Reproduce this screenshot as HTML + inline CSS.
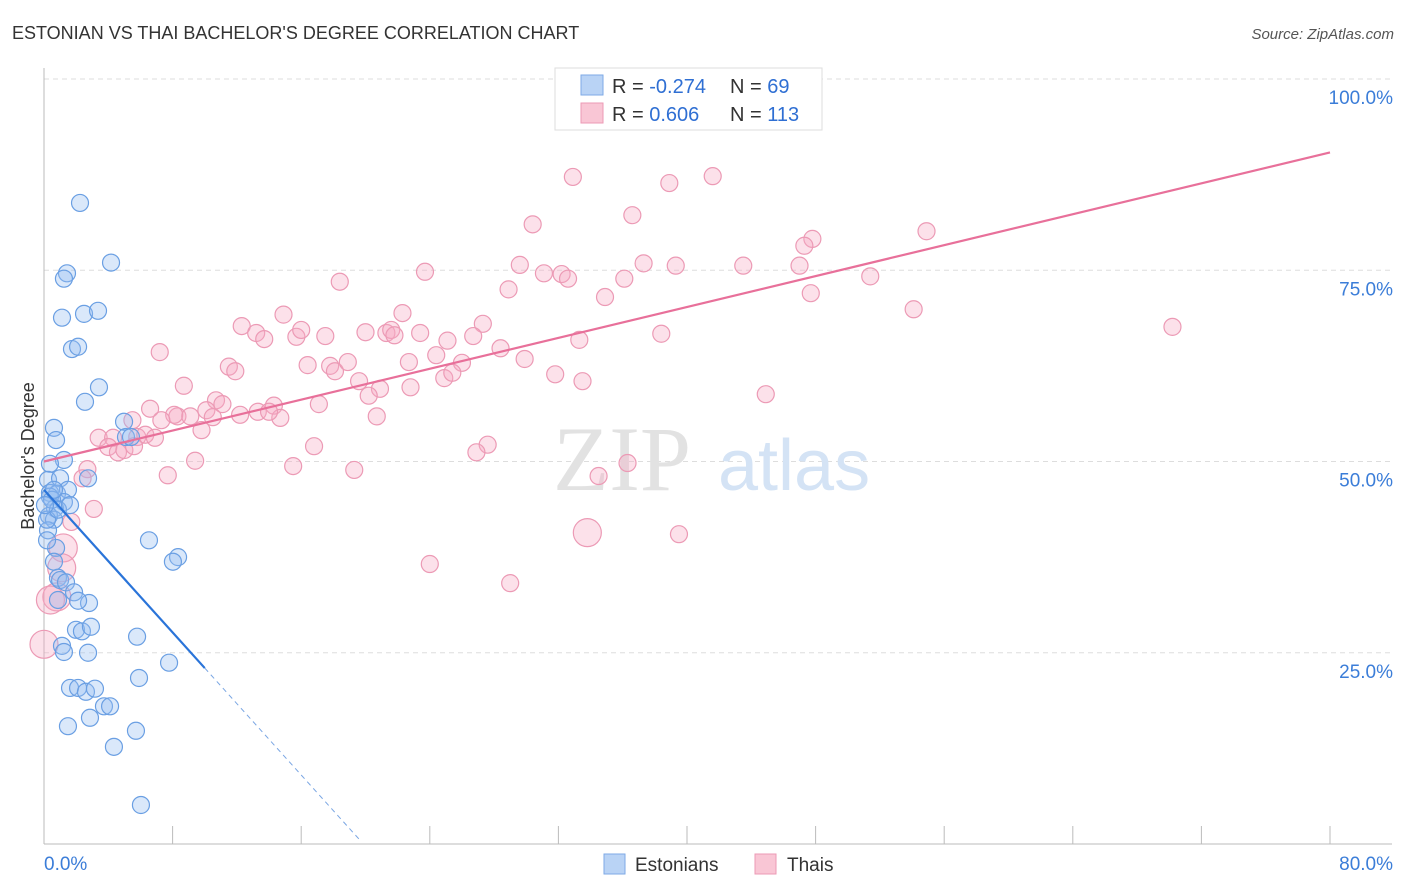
<!DOCTYPE html>
<html><head><meta charset="utf-8"><style>
body{margin:0;background:#fff;font-family:"Liberation Sans",sans-serif;}
svg{display:block}
</style></head><body>
<svg id="chart" width="1406" height="892" viewBox="0 0 1406 892">
<text x="12" y="39" font-size="18" fill="#333">ESTONIAN VS THAI BACHELOR'S DEGREE CORRELATION CHART</text>
<text x="1394" y="39" font-size="15" fill="#555" font-style="italic" text-anchor="end">Source: ZipAtlas.com</text>
<g id="grid"></g>
<g><text x="553" y="490" font-size="92" fill="#e2e2e2" font-family="Liberation Serif,serif">ZIP</text><text x="718" y="490" font-size="72" fill="#d4e3f5">atlas</text></g>
<line x1="44" y1="68" x2="44" y2="844" stroke="#bbb"/>
<line x1="44" y1="844" x2="1392" y2="844" stroke="#bbb"/>
<text x="34" y="456" font-size="18" fill="#333" transform="rotate(-90 34 456)" text-anchor="middle">Bachelor's Degree</text>
<g id="pts"></g>
<g id="lines"></g>
<g>
<rect x="555" y="68" width="267" height="62" fill="#fff" stroke="#ddd"/>
<rect x="581" y="75" width="22" height="20" fill="#b9d3f5" stroke="#7eaae6"/>
<rect x="581" y="103" width="22" height="20" fill="#f9c6d5" stroke="#ec9ab5"/>
<text x="612" y="93" font-size="20" fill="#333">R = <tspan fill="#2f6fd3">-0.274</tspan></text>
<text x="730" y="93" font-size="20" fill="#333">N = <tspan fill="#2f6fd3"> 69</tspan></text>
<text x="612" y="121" font-size="20" fill="#333">R = <tspan fill="#2f6fd3"> 0.606</tspan></text>
<text x="730" y="121" font-size="20" fill="#333">N = <tspan fill="#2f6fd3">113</tspan></text>
</g>
<g>
<rect x="604" y="854" width="21" height="20" fill="#b9d3f5" stroke="#7eaae6"/>
<text x="635" y="871" font-size="19" fill="#333">Estonians</text>
<rect x="755" y="854" width="21" height="20" fill="#f9c6d5" stroke="#ec9ab5"/>
<text x="787" y="871" font-size="19" fill="#333">Thais</text>
</g>
</svg>
<script>
const blueX=[2.24,4.17,1.43,1.24,1.12,2.49,3.36,1.74,2.12,3.42,2.55,4.98,0.62,0.75,1.24,0.37,0.25,1.0,2.74,0.37,0.81,1.49,1.24,0.37,0.68,0.31,0.62,0.25,6.53,0.75,8.34,8.02,0.62,0.87,1.0,1.37,1.87,2.80,2.12,0.87,5.79,1.99,2.36,2.92,1.12,2.74,1.24,5.91,7.78,1.62,2.12,2.61,3.17,3.73,4.11,2.86,1.49,5.72,4.35,6.03,5.10,5.41,0.19,0.5,0.87,1.62,0.06,0.62,0.19];
const blueY=[83.8,76.0,74.6,73.9,68.8,69.3,69.7,64.7,65.0,59.7,57.8,55.2,54.4,52.8,50.2,49.7,47.6,47.8,47.8,45.9,45.8,46.3,44.7,45.4,43.9,42.9,42.4,41.0,39.7,38.7,37.5,36.9,36.9,34.8,34.5,34.2,32.9,31.5,31.8,31.9,27.1,28.0,27.8,28.4,25.9,25.0,25.1,21.7,23.7,20.4,20.4,19.9,20.3,18.0,18.0,16.5,15.4,14.8,12.7,5.1,53.2,53.2,42.4,45.0,43.7,44.3,44.3,46.3,39.7];
const pinkX=[32.9,41.6,38.9,36.6,30.4,54.9,47.8,47.3,18.4,23.7,29.6,31.1,32.2,32.6,36.1,37.3,39.3,43.5,47.0,51.4,28.9,34.9,47.7,54.1,70.2,14.9,22.3,12.3,13.2,13.7,15.7,16.0,17.5,20.0,21.3,21.6,21.8,23.4,27.3,26.7,25.1,28.4,33.3,38.4,7.2,24.4,22.7,29.9,26.0,11.5,11.9,16.4,17.8,18.1,18.9,19.6,20.9,22.8,24.9,25.4,31.8,33.5,44.9,8.7,20.2,17.1,10.7,11.1,10.1,6.6,8.3,8.1,9.1,10.5,12.2,13.3,14.3,14.7,14.0,20.7,7.3,5.5,9.8,5.8,3.4,4.3,6.3,6.9,4.0,4.6,5.0,5.6,16.8,27.6,26.9,9.4,15.5,19.3,2.7,7.7,34.5,36.3,2.4,3.1,1.7,33.8,39.5,24.0,29.0,1.2,1.1,0.8,0.0,0.4];
const pinkY=[87.2,87.3,86.4,82.2,81.0,80.1,79.1,78.2,73.5,74.8,75.7,74.6,74.5,73.9,73.9,75.9,75.6,75.6,75.6,74.2,72.5,71.5,72.0,69.9,67.6,69.2,69.4,67.7,66.8,66.0,66.3,67.2,66.4,66.9,66.8,67.2,66.5,66.8,68.0,66.4,65.8,64.8,65.9,66.7,64.3,63.9,63.0,63.4,62.9,62.4,61.8,62.6,62.5,61.8,63.0,60.5,59.5,59.7,60.9,61.6,61.4,60.5,58.8,59.9,58.6,57.5,58.0,57.5,56.7,56.9,55.9,56.1,55.9,55.8,56.1,56.5,57.3,55.7,56.5,55.9,55.4,55.4,54.1,53.2,53.1,53.1,53.5,53.1,51.9,51.2,51.5,52.0,52.0,52.2,51.2,50.1,49.4,48.9,49.0,48.2,48.1,49.8,47.8,43.8,42.1,40.7,40.5,36.6,34.1,38.7,36.1,32.3,26.1,31.9];
const pinkBig=[0,0,0,0,0,0,0,0,0,0,0,0,0,0,0,0,0,0,0,0,0,0,0,0,0,0,0,0,0,0,0,0,0,0,0,0,0,0,0,0,0,0,0,0,0,0,0,0,0,0,0,0,0,0,0,0,0,0,0,0,0,0,0,0,0,0,0,0,0,0,0,0,0,0,0,0,0,0,0,0,0,0,0,0,0,0,0,0,0,0,0,0,0,0,0,0,0,0,0,0,0,0,0,0,0,1,0,0,0,1,1,1,1,1];
const xTicks=[0,8,16,24,32,40,48,56,64,72,80];
const yTicks=[25,50,75,100];
const yTickLabels=["25.0%","50.0%","75.0%","100.0%"];
const blueLine=[46.3,-2.33];
const pinkLine=[50.0,0.505];
const NS="http://www.w3.org/2000/svg";
const sx=v=>44+v*16.075, sy=v=>844-v*7.65;
function mk(tag,attrs,parent){const e=document.createElementNS(NS,tag);for(const k in attrs)e.setAttribute(k,attrs[k]);parent.appendChild(e);return e;}
const grid=document.getElementById('grid');
yTicks.forEach((t,i)=>{
 const l=mk('line',{x1:44,x2:1392,y1:sy(t),y2:sy(t),stroke:'#ddd','stroke-dasharray':'5,4'},grid);
 
 
 const tx=mk('text',{x:1393,y:sy(t)+25,'font-size':19,fill:'#3b7dd8','text-anchor':'end'},grid);
 tx.textContent=yTickLabels[i];
 
 
});
xTicks.forEach(t=>{
 const l=mk('line',{x1:sx(t),x2:sx(t),y1:826,y2:844,stroke:'#bbb'},grid);
 
 
});
const xl=mk('text',{x:44,y:870,'font-size':19,fill:'#3b7dd8'},grid);xl.textContent=xTicks[0].toFixed(1)+'%';


const xr=mk('text',{x:1393,y:870,'font-size':19,fill:'#3b7dd8','text-anchor':'end'},grid);xr.textContent=xTicks[xTicks.length-1].toFixed(1)+'%';


const pts=document.getElementById('pts');
pinkX.forEach((x,i)=>{
 const c=mk('circle',{cx:sx(x),cy:sy(pinkY[i]),r:pinkBig[i]?14:8.5,fill:'rgba(245,170,195,0.35)',stroke:'#ec9ab5','stroke-width':1.2},pts);
 
 
});
blueX.forEach((x,i)=>{
 const c=mk('circle',{cx:sx(x),cy:sy(blueY[i]),r:8.5,fill:'rgba(150,190,240,0.35)',stroke:'#6a9fe3','stroke-width':1.2},pts);
 
 
});
const lines=document.getElementById('lines');
const pl=mk('line',{x1:sx(0),y1:sy(pinkLine[0]),x2:sx(80),y2:sy(pinkLine[0]+80*pinkLine[1]),stroke:'#e8709a','stroke-width':2.2},lines);


const bl=mk('line',{x1:sx(0),y1:sy(blueLine[0]),x2:sx(10),y2:sy(blueLine[0]+10*blueLine[1]),stroke:'#2a74d9','stroke-width':2.2},lines);


const xe=-blueLine[0]/blueLine[1]-0.2;
const bd=mk('line',{x1:sx(10),y1:sy(blueLine[0]+10*blueLine[1]),x2:sx(xe),y2:sy(blueLine[0]+xe*blueLine[1]),stroke:'#7aa6e3','stroke-width':1,'stroke-dasharray':'5,4'},lines);


</script>
</body></html>
